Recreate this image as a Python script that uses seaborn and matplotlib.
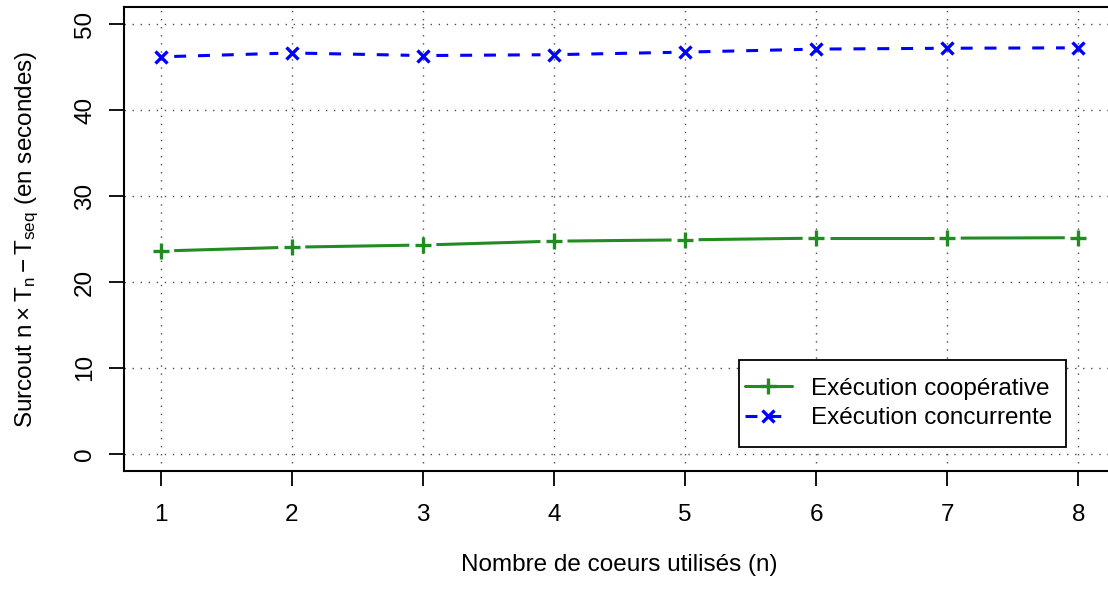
import matplotlib
matplotlib.use("Agg")
import matplotlib.pyplot as plt
from matplotlib.lines import Line2D
from matplotlib.patches import Rectangle
import seaborn as sns
import numpy as np
import pandas as pd

cores = [1, 2, 3, 4, 5, 6, 7, 8]
coop = [23.6, 24.05, 24.3, 24.75, 24.9, 25.1, 25.1, 25.15]
conc = [46.2, 46.65, 46.35, 46.45, 46.75, 47.1, 47.2, 47.25]
labels = ["Exécution coopérative", "Exécution concurrente"]
yticks = [0, 10, 20, 30, 40, 50]

sns.set_theme(style="white")
plt.rcParams['font.family'] = ['Liberation Sans', 'DejaVu Sans']
plt.rcParams['mathtext.fontset'] = 'custom'
plt.rcParams['mathtext.rm'] = 'Liberation Sans'
plt.rcParams['mathtext.it'] = 'Liberation Sans:italic'
plt.rcParams['text.color'] = 'black'
plt.rcParams['axes.labelcolor'] = 'black'
plt.rcParams['xtick.color'] = 'black'
plt.rcParams['ytick.color'] = 'black'

fig = plt.figure(figsize=(11.08, 5.89), dpi=100)
ax = fig.add_axes([124/1108, 1-471/589, (1115-124)/1108, (471-7)/589])

df = pd.DataFrame({
    "n": cores + cores,
    "v": coop + conc,
    "serie": [labels[0]] * len(cores) + [labels[1]] * len(cores),
})

fs = 17.5
ax.set_xlim(0.72, 8.28)
ax.set_ylim(-2, 52)
grid_ls = (0, (1, 4.8))
for x in cores:
    ax.axvline(x, color='0.3', lw=1.0, linestyle=grid_ls, zorder=0)
for y in yticks:
    ax.axhline(y, color='0.3', lw=1.0, linestyle=grid_ls, zorder=0)

green = "#228B22"
blue = "#0000FF"
lw = 2.2
blue_dash = (0, (3.9, 3.9))
plus_kw = dict(marker="+", markersize=11, markeredgewidth=2.4)
x_kw = dict(marker="x", markersize=9, markeredgewidth=2.4)

# markers (R type="b")
sns.lineplot(data=df[df.serie == labels[0]], x="n", y="v", ax=ax, linestyle='',
             color=green, markeredgecolor=green, legend=False, **plus_kw)
sns.lineplot(data=df[df.serie == labels[1]], x="n", y="v", ax=ax, linestyle='',
             color=blue, markeredgecolor=blue, legend=False, **x_kw)

# connecting segments with gaps around points
gap = 13.5
def gapped(xs, ys, **kw):
    pts = ax.transData.transform(np.column_stack([xs, ys]))
    inv = ax.transData.inverted()
    for p, q in zip(pts[:-1], pts[1:]):
        d = q - p
        u = d / np.hypot(*d)
        a = inv.transform(p + u * gap)
        b = inv.transform(q - u * gap)
        ax.plot([a[0], b[0]], [a[1], b[1]], **kw)

gapped(cores, coop, color=green, lw=lw, solid_capstyle='butt')
gapped(cores, conc, color=blue, lw=lw, linestyle=blue_dash, dash_capstyle='butt')

ax.set_xticks(cores)
ax.set_yticks(yticks)
ax.set_xticklabels([str(c) for c in cores], fontsize=fs)
ax.set_yticklabels([str(t) for t in yticks], fontsize=fs, rotation=90, va='center')
ax.tick_params(axis='both', direction='out', length=11, width=1.3, color='black',
               left=True, bottom=True)
ax.tick_params(axis='x', pad=13)
ax.tick_params(axis='y', pad=9)
for s in ax.spines.values():
    s.set_color('black')
    s.set_linewidth(1.5)

ax.set_xlabel("Nombre de coeurs utilisés (n)", fontsize=fs, labelpad=20)
ax.set_ylabel(r"Surcout $\mathrm{n \times T_n - T_{seq}}$ (en secondes)", fontsize=fs, labelpad=24)

# legend box (R style: tight left padding)
ax.add_patch(Rectangle((0.6206, 0.0517), 0.9506 - 0.6206, 0.2392 - 0.0517,
                       transform=ax.transAxes, facecolor='white', edgecolor='black',
                       lw=1.3, zorder=4.5))
handles = [
    Line2D([], [], color=green, lw=lw, **plus_kw),
    Line2D([], [], color=blue, lw=lw, linestyle=blue_dash, **x_kw),
]
leg = ax.legend(handles, labels, loc='center left', bbox_to_anchor=(0.6266, 0.1455),
                fontsize=fs, frameon=False, handlelength=1.93, borderpad=0,
                labelspacing=0.29, handletextpad=0.8, borderaxespad=0)
leg.set_zorder(5)

fig.savefig("out.png", dpi=100)
